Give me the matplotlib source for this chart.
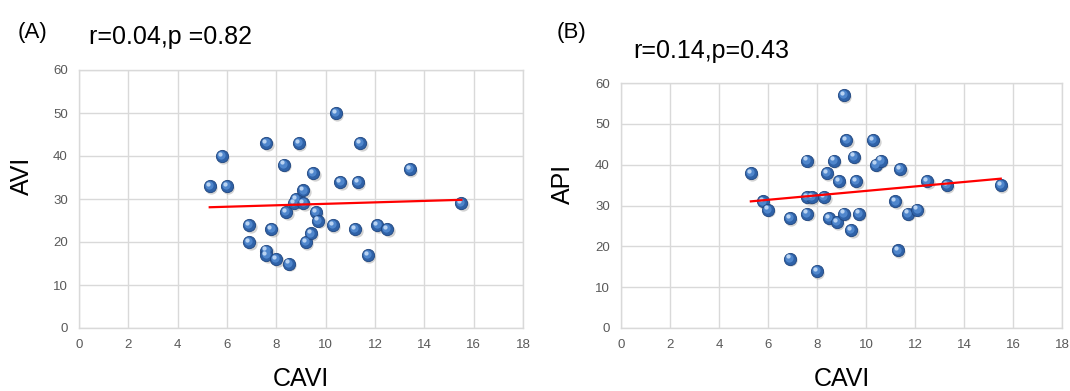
import matplotlib
matplotlib.use("Agg")
import matplotlib.pyplot as plt
import matplotlib.transforms as mtransforms
import numpy as np

plt.rcParams["font.family"] = ["Liberation Sans", "DejaVu Sans"]

# (A) CAVI vs AVI
cavi_a = [5.3, 5.8, 6.0, 6.9, 6.9, 7.6, 7.6, 7.6, 7.8, 8.0, 8.3, 8.5, 8.4, 8.9, 8.8, 8.7, 9.1,
          9.1, 9.2, 9.4, 9.5, 9.6, 9.7, 10.4, 10.3, 10.6, 11.3, 11.4, 11.2, 11.7, 12.1, 12.5,
          13.4, 15.5]
avi = [33, 40, 33, 24, 20, 43, 18, 17, 23, 16, 38, 15, 27, 43, 30, 29, 32,
       29, 20, 22, 36, 27, 25, 50, 24, 34, 34, 43, 23, 17, 24, 23,
       37, 29]

# (B) CAVI vs API
cavi_b = [5.3, 5.8, 6.0, 6.9, 6.9, 7.6, 7.6, 7.6, 7.8, 8.0, 8.3, 8.4, 8.5, 8.7, 8.8, 8.9, 9.1,
          9.1, 9.2, 9.4, 9.5, 9.6, 9.7, 10.3, 10.4, 10.6, 11.2, 11.3, 11.4, 11.7, 12.1, 12.5,
          13.3, 15.5]
api = [38, 31, 29, 27, 17, 41, 28, 32, 32, 14, 32, 38, 27, 41, 26, 36, 57,
       28, 46, 24, 42, 36, 28, 46, 40, 41, 31, 19, 39, 28, 29, 36,
       35, 35]

panels = [
    dict(x=cavi_a, y=avi, ylabel="AVI", tag="(A)", stat="r=0.04,p =0.82"),
    dict(x=cavi_b, y=api, ylabel="API", tag="(B)", stat="r=0.14,p=0.43"),
]

W, H = 1070, 391
fig = plt.figure(figsize=(W / 100, H / 100), dpi=100)

# pixel boxes (left, top, right, bottom) of each plot area
boxes = [(79, 70, 523, 328), (621, 83, 1062, 328)]
ylab_pos = [(22, 176), (563, 184)]
tag_pos = [(18, 38), (557, 38)]
stat_pos = [(89, 44), (633, 58)]

grid_c = "#d9d9d9"
tick_c = "#595959"


def sphere_scatter(ax, x, y, s=78):
    """Excel 풍 구슬 마커: 그림자 + 본체 + 하이라이트를 겹쳐 그린다."""
    def off(dx, dy):
        return mtransforms.offset_copy(ax.transData, fig=fig, x=dx, y=dy, units="dots")
    ax.scatter(x, y, s=s, color="#7f7f7f", alpha=0.35, lw=0, transform=off(1.3, -1.8), zorder=3)
    ax.scatter(x, y, s=s, color="#2f62a8", edgecolor="#1f4680", lw=0.6, zorder=4)
    ax.scatter(x, y, s=s * 0.45, color="#4f86cc", lw=0, transform=off(-0.9, 0.9), zorder=5)
    ax.scatter(x, y, s=s * 0.12, color="#b9d3f2", lw=0, transform=off(-2.0, 2.2), zorder=6)


for p, (l, t, r, b), (yx, yy), (tx, ty), (sx, sy) in zip(panels, boxes, ylab_pos, tag_pos, stat_pos):
    ax = fig.add_axes([l / W, 1 - b / H, (r - l) / W, (b - t) / H])
    x = np.array(p["x"])
    y = np.array(p["y"])

    sphere_scatter(ax, x, y)

    k, c = np.polyfit(x, y, 1)
    xs = np.array([x.min(), x.max()])
    ax.plot(xs, k * xs + c, color="#ff0000", lw=1.6, zorder=7)

    ax.set_xlim(0, 18)
    ax.set_ylim(0, 60)
    ax.set_xticks(np.arange(0, 19, 2))
    ax.set_yticks(np.arange(0, 61, 10))
    ax.grid(True, color=grid_c, lw=1)
    ax.set_axisbelow(True)
    for sp in ax.spines.values():
        sp.set_color(grid_c)
        sp.set_linewidth(1)
    ax.tick_params(length=0, labelsize=9.5, colors=tick_c, pad=8)

    ax.set_xlabel("CAVI", fontsize=18)
    ax.set_ylabel(p["ylabel"], fontsize=18)
    ax.xaxis.set_label_coords(0.5, (b - 379) / (b - t))
    ax.yaxis.set_label_coords((yx - l) / (r - l), (b - yy) / (b - t))
    ax.xaxis.label.set_va("center")
    ax.yaxis.label.set_va("center")

    fig.text(tx / W, 1 - ty / H, p["tag"], fontsize=16, va="baseline", ha="left")
    fig.text(sx / W, 1 - sy / H, p["stat"], fontsize=18, va="baseline", ha="left")

fig.savefig("out.png", dpi=100)
